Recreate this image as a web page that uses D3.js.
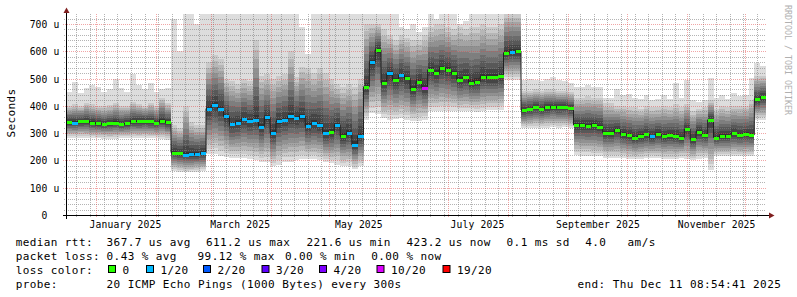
<!DOCTYPE html>
<html><head><meta charset="utf-8">
<script src="https://cdn.jsdelivr.net/npm/d3@7"></script>
<style>
html,body{margin:0;padding:0;background:#fff;}
svg{display:block;}
text{font-family:"DejaVu Sans Mono",monospace;}
</style></head><body>
<svg id="c" width="797" height="297"></svg>
<script>
// ---- data, one value per 3-day step over 360 days ----
const endTime = new Date(2025, 11, 11, 8, 54, 41);
const spanDays = 360;
const stepDays = 3;

const median = [
340,339,343,345,339,336,334,336,339,332,336,343,343,345,343,339,346,340,
229,227,221,224,224,227,
390,404,389,361,333,339,351,343,349,324,358,300,343,349,361,355,361,327,336,330,300,305,330,290,300,257,290,
470,560,605,485,519,495,513,501,462,489,467,532,519,538,532,519,495,504,485,489,507,504,504,510,
595,599,600,
385,389,395,389,394,397,395,395,391,
330,330,328,330,324,302,302,312,
297,294,284,290,296,288,297,290,294,290,284,315,278,306,294,349,284,290,290,300,294,297,294,424,432];

const pingLow = [
284,284,284,282,282,282,280,279,280,284,284,283,282,282,282,282,278,276,
160,158,156,156,158,160,
225,225,215,212,210,208,210,205,200,195,195,178,185,195,195,200,205,205,205,200,195,190,185,180,180,168,180,
350,373,370,355,350,352,355,350,345,345,350,380,382,382,382,380,380,380,380,378,380,385,385,385,
495,495,495,
318,320,320,320,320,322,320,322,318,
220,218,218,216,216,210,210,210,
210,205,205,205,208,210,208,205,205,205,210,205,200,205,210,166,215,215,215,215,215,215,215,349,349];

const ping19 = [
400,405,400,410,405,400,398,402,410,400,398,415,405,400,410,400,430,410,
330,320,400,340,330,330,
560,586,570,500,490,480,500,490,640,510,515,500,510,515,600,507,544,540,520,540,520,500,480,470,480,470,500,
700,700,700,680,660,640,660,650,640,640,660,690,700,700,690,680,690,680,690,690,700,690,690,700,
740,740,740,
455,455,460,455,460,460,455,455,450,
430,430,435,430,430,410,410,400,
400,395,395,390,400,395,395,400,395,405,395,405,380,390,395,420,390,400,395,400,400,400,420,510,510];

const pingHigh = [
452,489,446,465,477,470,452,460,500,465,450,515,477,460,485,452,460,465,
720,600,740,740,700,740,
740,740,740,740,740,740,740,740,740,740,740,740,740,740,740,740,690,590,740,740,740,740,740,740,740,740,740,
740,740,740,740,740,740,690,680,700,670,690,740,720,740,740,740,700,710,740,740,740,740,740,740,
740,740,740,
495,500,495,490,500,507,495,490,485,
470,470,475,470,470,430,428,460,
440,445,430,425,440,420,425,440,425,483,430,495,420,415,420,501,430,440,425,446,435,440,501,556,545];

const loss = [
0,1,0,0,0,0,0,0,0,0,0,0,0,0,0,0,0,0,
0,0,1,1,1,1,
1,1,1,1,1,1,1,1,1,1,1,1,1,1,1,1,1,1,1,1,1,0,1,0,1,1,1,
0,1,0,0,1,0,1,0,0,0,10,0,0,0,0,0,0,0,0,0,0,0,0,0,
0,1,0,
0,0,0,0,0,0,0,0,0,
0,0,0,0,0,0,0,0,
0,0,0,0,0,1,0,0,0,0,0,0,0,0,0,0,0,0,0,0,0,0,0,0,0];

const yTicks = [0,100,200,300,400,500,600,700];
const lossBins = [0,1,2,3,4,10,19];
const lossLabels = ["0","1/20","2/20","3/20","4/20","10/20","19/20"];
const lossColors = ["#26ff00","#00b8ff","#0059ff","#5e00ff","#7e00ff","#dd00ff","#ff0000"];

const legendRtt = ["median rtt:","367.7 us avg","611.2 us max","221.6 us min","423.2 us now","0.1 ms sd","4.0","am/s"];
const legendLoss = ["packet loss:","0.43 % avg","99.12 % max","0.00 % min","0.00 % now"];
const probeText = "20 ICMP Echo Pings (1000 Bytes) every 300s";
const endText = "end: Thu Dec 11 08:54:41 2025";

// ---- layout ----
const svg = d3.select("#c");
const L = 66, R = 766, T = 14, B = 215;
const startTime = new Date(+endTime - spanDays*864e5);
const x = d3.scaleTime().domain([startTime, endTime]).range([L, R]);
const y = d3.scaleLinear().domain([0, 700]).range([215, 24]);
const N = median.length;
const tAt = i => new Date(+startTime + i*stepDays*864e5);
const colorOf = l => lossColors[lossBins.indexOf(l)];

svg.append("defs").append("clipPath").attr("id","pc")
  .append("rect").attr("x",L).attr("y",T).attr("width",R-L).attr("height",B-T);

// 20 sorted pings per step, anchored on the read values
function pings(i){
  const lo=pingLow[i], m=median[i], h=ping19[i], hi=pingHigh[i], p=[];
  for(let k=1;k<=10;k++) p.push(lo+(m-lo)*(k-1)/9.5);
  for(let k=11;k<=19;k++) p.push(m+(h-m)*(k-10.5)/8.5);
  p.push(hi);
  return p;
}
const P = d3.range(N).map(pings);
const idx = d3.range(N+1);
const cl = i => Math.min(i, N-1);

const smoke = svg.append("g").attr("clip-path","url(#pc)").attr("shape-rendering","crispEdges");
for(let j=1;j<=10;j++){
  const s = Math.floor(190/10*(10-j))+50;
  const area = d3.area().curve(d3.curveStepAfter)
    .x(i=>x(tAt(i)))
    .y0(i=>y(P[cl(i)][j-1]))
    .y1(i=>y(P[cl(i)][20-j]));
  smoke.append("path").attr("d",area(idx)).attr("fill",d3.rgb(s,s,s));
}

// ---- grid ----
const grid = svg.append("g").attr("fill","none").attr("stroke-width",1).attr("shape-rendering","crispEdges");
const minorC = "rgba(130,130,130,0.6)", majorC = "rgba(225,70,70,0.48)";
const months = d3.timeMonth.range(startTime, endTime);
const monthX = new Set(months.map(m=>Math.floor(x(m))));
d3.timeWeek.range(startTime, endTime).forEach(w=>{
  const px = Math.floor(x(w));
  if(monthX.has(px)) return;
  grid.append("line").attr("x1",px+0.5).attr("x2",px+0.5).attr("y1",T).attr("y2",B+2)
    .attr("stroke",minorC).attr("stroke-dasharray","1,1");
});
d3.range(20, 737, 20).forEach(v=>{
  if(v%100===0) return;
  const py = Math.round(y(v))+0.5;
  grid.append("line").attr("x1",L-2).attr("x2",R).attr("y1",py).attr("y2",py)
    .attr("stroke",minorC).attr("stroke-dasharray","1,1");
});
months.forEach(m=>{
  const px = Math.floor(x(m))+0.5;
  grid.append("line").attr("x1",px).attr("x2",px).attr("y1",T).attr("y2",B+3)
    .attr("stroke",majorC).attr("stroke-dasharray","1,1");
});
yTicks.filter(v=>v>0).forEach(v=>{
  const py = Math.round(y(v))+0.5;
  grid.append("line").attr("x1",L-3).attr("x2",R).attr("y1",py).attr("y2",py)
    .attr("stroke",majorC).attr("stroke-dasharray","1,1");
});

// ---- median line ----
const medLine = d3.line().curve(d3.curveStepAfter).x(i=>x(tAt(i))).y(i=>y(median[cl(i)]));
const mg = svg.append("g").attr("clip-path","url(#pc)");
mg.append("path").attr("d",medLine(idx)).attr("fill","none").attr("stroke","#202020").attr("stroke-width",1);
mg.selectAll("rect").data(d3.range(N)).join("rect")
  .attr("x",i=>x(tAt(i))+0.5).attr("width",i=>x(tAt(i+1))-x(tAt(i))-0.5)
  .attr("y",i=>Math.round(y(median[i]))-1).attr("height",2.5)
  .attr("fill",i=>colorOf(loss[i])).attr("shape-rendering","crispEdges");

// ---- axes ----
const ax = svg.append("g").attr("shape-rendering","crispEdges");
ax.append("line").attr("x1",63).attr("x2",769).attr("y1",215.5).attr("y2",215.5).attr("stroke","#000");
ax.append("line").attr("x1",66.5).attr("x2",66.5).attr("y1",219).attr("y2",12).attr("stroke","#000");
svg.append("path").attr("d","M769,212.5L774.5,215.5L769,218.5Z").attr("fill","#7f1f1f");
svg.append("path").attr("d","M63.5,13L66.5,7.5L69.5,13Z").attr("fill","#7f1f1f");

// y labels
const yl = svg.append("g").attr("font-size","9.7px").attr("letter-spacing","0.16px").attr("text-anchor","end");
yTicks.forEach(v=>{
  const py = Math.round(y(v))+3.8;
  yl.append("text").attr("x", v===0 ? 47.6 : 59.6).attr("y",py).text(v===0 ? "0" : v+" u");
});
// x labels
const xl = svg.append("g").attr("font-size","9.7px").attr("letter-spacing","0.16px").attr("text-anchor","middle");
d3.timeMonth.every(2).range(startTime, endTime).forEach(m=>{
  const px = x(d3.timeDay.offset(m,15));
  if(px>R) return;
  xl.append("text").attr("x",px).attr("y",228.2).text(d3.timeFormat("%B %Y")(m));
});

// y title
svg.append("text").attr("transform","translate(15.2,113) rotate(-90)").attr("text-anchor","middle")
  .attr("font-size","11px").attr("letter-spacing","0.4px").text("Seconds");
// watermark
svg.append("text").attr("transform","translate(784.5,5) rotate(90)").attr("font-size","8.3px")
  .attr("fill","#b0b0b0").text("RRDTOOL / TOBI OETIKER");

// ---- legend ----
const lg = svg.append("g").attr("font-size","11px").attr("letter-spacing","0.4px").attr("fill","#000")
  .style("white-space","pre");
const rttX = [15.7,106.6,206,306.6,406.6,506.6,585.3,627.6];
legendRtt.forEach((s,k)=>lg.append("text").attr("x",rttX[k]).attr("y",245.6).text(s));
const lossX = [15.7,106.6,197.6,285,371.3];
legendLoss.forEach((s,k)=>lg.append("text").attr("x",lossX[k]).attr("y",259.7).text(s));
lg.append("text").attr("x",15.7).attr("y",273.5).text("loss color:");
const boxX = [108,146,203,261.5,319,376.5,442.5];
lossLabels.forEach((s,k)=>{
  svg.append("rect").attr("x",boxX[k]+0.5).attr("y",265.5).attr("width",7).attr("height",7)
    .attr("fill",lossColors[k]).attr("stroke","#000").attr("stroke-width",1);
  lg.append("text").attr("x",boxX[k]+14.5).attr("y",273.5).text(s);
});
lg.append("text").attr("x",15.7).attr("y",287.6).text("probe:");
lg.append("text").attr("x",106.6).attr("y",287.6).text(probeText);
lg.append("text").attr("x",781.2).attr("y",287.6).attr("text-anchor","end").text(endText);
</script>
</body></html>
